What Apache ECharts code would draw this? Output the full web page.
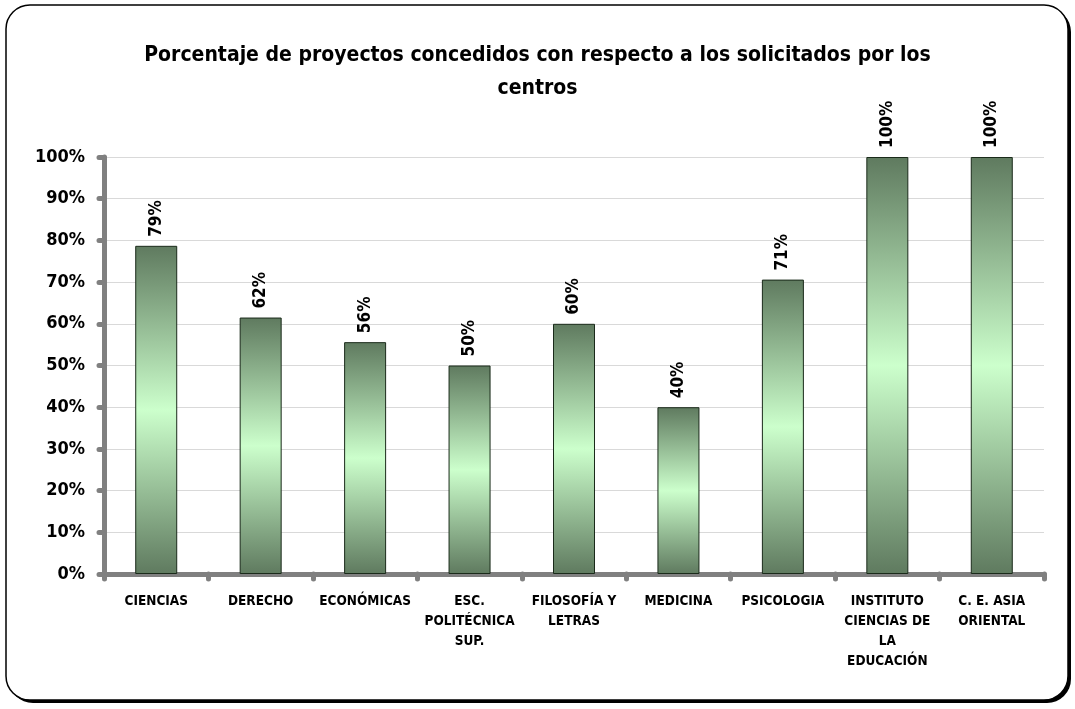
<!DOCTYPE html>
<html>
<head>
<meta charset="utf-8">
<script src="https://cdn.jsdelivr.net/npm/echarts@6/dist/echarts.min.js"></script>
<style>
html,body{margin:0;padding:0;background:#fff;}
#chart{width:1075px;height:709px;}
</style>
</head>
<body>
<div id="chart"></div>
<script>
const titleText = 'Porcentaje de proyectos concedidos con respecto a los solicitados por los\ncentros';
const categories = ['CIENCIAS','DERECHO','ECONÓMICAS','ESC.\nPOLITÉCNICA\nSUP.','FILOSOFÍA Y\nLETRAS','MEDICINA','PSICOLOGIA','INSTITUTO\nCIENCIAS DE\nLA\nEDUCACIÓN','C. E. ASIA\nORIENTAL'];
const values = [0.787, 0.615, 0.556, 0.50, 0.60, 0.40, 0.706, 1.00, 1.00];
const yTicks = [0, 0.1, 0.2, 0.3, 0.4, 0.5, 0.6, 0.7, 0.8, 0.9, 1.0];

const FONT = '"Liberation Sans Narrow", "Arial Narrow", "DejaVu Sans Condensed", "Liberation Sans", sans-serif';
const chart = echarts.init(document.getElementById('chart'), null, {renderer:'canvas'});
const barGrad = new echarts.graphic.LinearGradient(0,0,0,1,[
  {offset:0,color:'#5f7a5f'},
  {offset:0.5,color:'#ccffcc'},
  {offset:1,color:'#5f7a5f'}
]);
chart.setOption({
  animation:false,
  backgroundColor:'#fff',
  graphic:[{
    type:'rect', z:-11, silent:true,
    shape:{x:9,y:8,width:1062,height:695,r:24},
    style:{fill:'#000'}
  },{
    type:'rect', z:-10, silent:true,
    shape:{x:6,y:5,width:1062,height:695,r:24},
    style:{fill:'#fff',stroke:'#000',lineWidth:1.5}
  }],
  title:{
    text:titleText, left:'center', top:34,
    textStyle:{fontFamily:FONT,fontWeight:'bold',fontSize:21,color:'#000',lineHeight:33}
  },
  grid:{left:104,right:31,top:157,bottom:135,containLabel:false},
  xAxis:{
    type:'category', data:categories,
    axisLine:{lineStyle:{color:'#808080',width:5,cap:'round'}},
    axisTick:{show:true,length:5,lineStyle:{color:'#808080',width:5,cap:'round'}},
    axisLabel:{interval:0,margin:17,fontFamily:FONT,fontWeight:'bold',fontSize:13.5,color:'#000',lineHeight:20}
  },
  yAxis:{
    type:'value', min:0, max:1, interval:0.1,
    axisLine:{show:true,lineStyle:{color:'#808080',width:5,cap:'round'}},
    axisTick:{show:true,length:5,lineStyle:{color:'#808080',width:5,cap:'round'}},
    splitLine:{lineStyle:{color:'#d9d9d9',width:1}},
    axisLabel:{margin:19,fontFamily:FONT,fontWeight:'bold',fontSize:18,color:'#000',
      formatter:v=>Math.round(v*100)+'%'}
  },
  series:[{
    type:'bar', data:values, barWidth:42,
    itemStyle:{color:barGrad,borderColor:'#1a2a1a',borderWidth:1},
    label:{show:true,position:'top',rotate:90,align:'left',verticalAlign:'middle',distance:9,
      fontFamily:FONT,fontWeight:'bold',fontSize:17,color:'#000',
      formatter:p=>Math.round(p.value*100)+'%'}
  }]
});
</script>
</body>
</html>
